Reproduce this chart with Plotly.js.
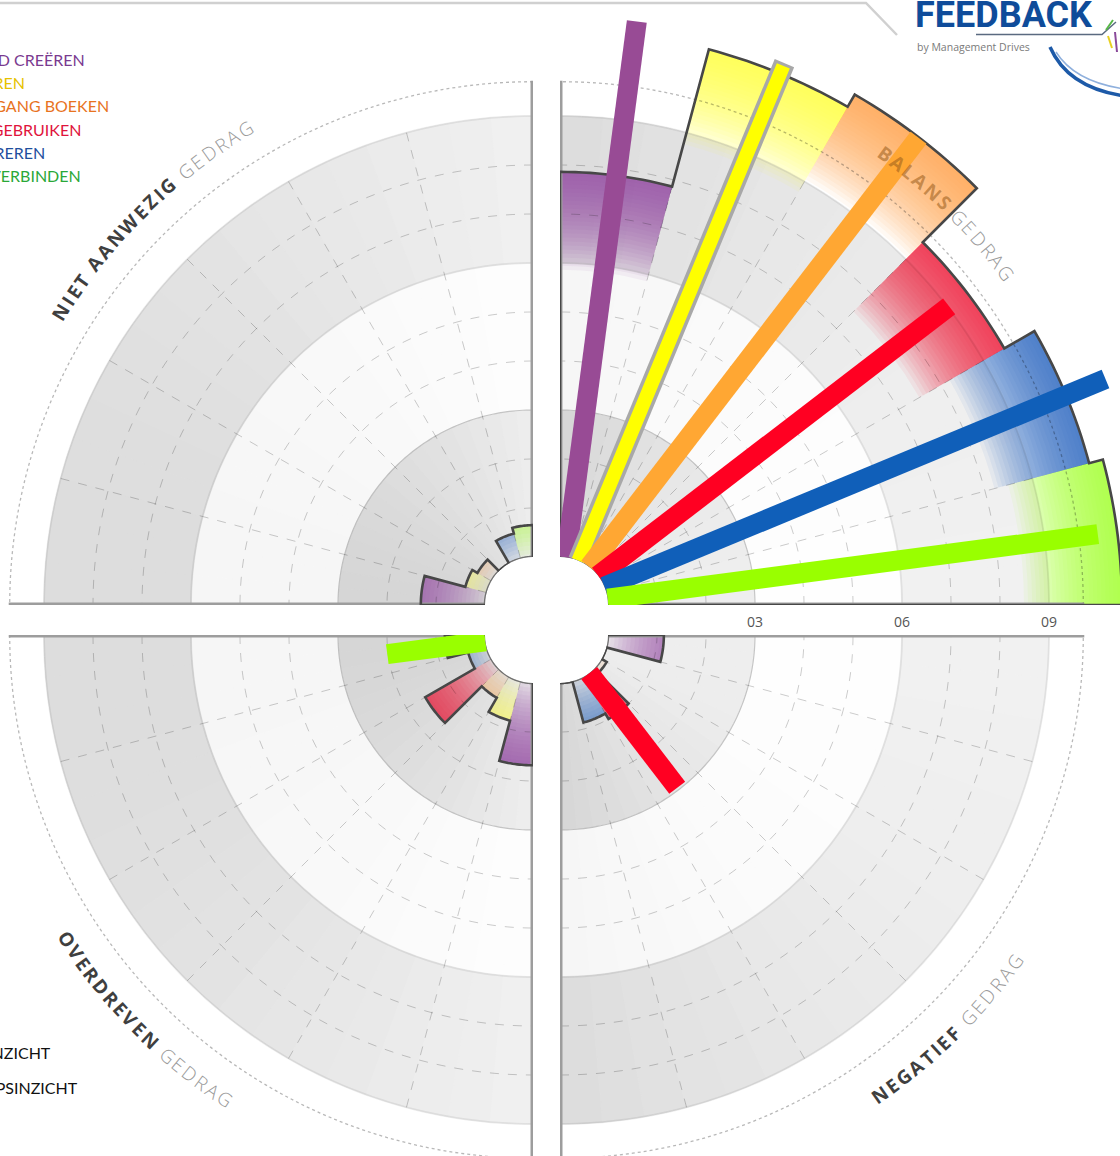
<!DOCTYPE html>
<html><head><meta charset="utf-8">
<script src="https://cdn.plot.ly/plotly-3.0.1.min.js"></script>
<style>
html,body{margin:0;padding:0;overflow:hidden;background:#fff;width:1120px;height:1156px;position:relative}
#plot{position:absolute;left:-190px;top:-170px;width:1500px;height:1500px}
</style>
</head><body><div id="plot"></div>
<script>
// ---------------- DATA ----------------
// category order: purple, yellow, orange, red, blue, green
const categories = ['DUIDELIJKHEID CREËREN','ENTHOUSIASMEREN','VOORUITGANG BOEKEN','TALENTEN GEBRUIKEN','INSPIREREN','MENSEN VERBINDEN'];
const insightLabels = ['ZELFINZICHT','GROEPSINZICHT'];
const quadrantTitles = [['BALANS ','GEDRAG'],['NIET AANWEZIG ','GEDRAG'],['OVERDREVEN ','GEDRAG'],['NEGATIEF ','GEDRAG']];
const radialTickVals = [1,2,3,4,5,6,7,8,9];
const radialTickText = ['','','03','','','06','','','09'];

const balansBars        = [7.86, 10.76, 11.05, 9.49, 10.2, 10.49];
const balansNeedles     = [11.03, 10.99, 11.04, 9.03, 11.07, 10.09];
const nietAanwezigBars  = [1.31, 0.45, 0.33, 0, 0.53, 0.65];
const nietAanwezigNeedles = [0, 0, 0, 0, 0, 0];
const overdrevenBars    = [1.68, 0.83, 0.5, 1.56, 0.39, 0.82];
const overdrevenNeedles = [0, 0, 0, 0, 0, 2.02];
const negatiefBars      = [1.14, 0, 0.12, 1.0, 0.87, 0];
const negatiefNeedles   = [0, 0, 0, 2.95, 0, 0];

// ---------------- STYLE ----------------
const wedgeRGB = [[150,80,160],[255,255,60],[255,170,70],[245,30,60],[40,110,195],[165,255,40]];
const needleColors = ['#984b95','#ffff00','#ffa733','#ff0022','#105fb9','#99ff00'];
const legendColors = ['#7a3a90','#e6c200','#e8731f','#e0143c','#1f4f9e','#2aa838'];
const legendLayout = {y0:60, dy:23, right:[87,27,111,83,47,83]};

const W=1500,H=1500,OX=190,OY=170,R0=48,K=49,RMAX=12,RO=R0+K*RMAX;
const px=x=>(x+OX)/W, py=y=>1-(y+OY)/H;

const quads=[
 {sp:'polar',  q0:0,   ox:560, oy:605, bars:balansBars, needles:balansNeedles, title:quadrantTitles[0], lab:{R:556,a0:-54.2,a1:-36.7,c0:'rgba(150,90,25,0.55)'}, ticks:true},
 {sp:'polar2', q0:90,  ox:533, oy:605, bars:nietAanwezigBars, needles:nietAanwezigNeedles, title:quadrantTitles[1], lab:{R:555.5,a0:-148.2,a1:-121.1,c0:'#3f3f3f'}},
 {sp:'polar3', q0:180, ox:533, oy:635, bars:overdrevenBars, needles:overdrevenNeedles, title:quadrantTitles[2], lab:{R:557,a0:146.9,a1:123.6,c0:'#3f3f3f'}},
 {sp:'polar4', q0:270, ox:560, oy:635, bars:negatiefBars, needles:negatiefNeedles, title:quadrantTitles[3], lab:{R:560,a0:55.2,a1:35.7,c0:'#3f3f3f'}}
];

const data=[], annotations=[], shapes=[];
const layout={width:W,height:H,margin:{l:0,r:0,t:0,b:0},paper_bgcolor:'rgba(0,0,0,0)',showlegend:false,annotations,shapes};

function range(a,b,s){const o=[];for(let v=a;v<=b+1e-9;v+=s)o.push(v);return o;}

quads.forEach(q=>{
  const cx=q.ox+OX, cy=q.oy+OY;
  const right=(q.q0===0||q.q0===270), top=(q.q0===0||q.q0===90);
  const x0=right?cx:cx-RO, x1=right?cx+RO:cx;
  const yt=top?cy-RO:cy, yb=top?cy:cy+RO;
  layout[q.sp]={
    domain:{x:[x0/W,x1/W],y:[1-yb/H,1-yt/H]},
    sector:[q.q0,q.q0+90], hole:R0/RO, bgcolor:'rgba(0,0,0,0)', barmode:'overlay',
    radialaxis:{range:[0,RMAX],autorange:false,tickvals:radialTickVals,ticktext:radialTickText,
      showticklabels:!!q.ticks,showline:false,ticks:'outside',ticklen:5,tickcolor:'rgba(0,0,0,0)',showgrid:false,angle:q.q0,side:'clockwise',
      tickfont:{family:'Open Sans',size:14,color:'#555'}},
    angularaxis:{showgrid:false,showticklabels:false,ticks:'',showline:false,rotation:0,direction:'counterclockwise'}
  };
  const c0=Math.cos(q.q0*Math.PI/180), c1=Math.cos((q.q0+90)*Math.PI/180);
  const xmin=Math.min(c0,c1), xmax=Math.max(c0,c1);
  // background bands (horizontal light gradient)
  const bands=[{b:0,len:3,dark:0.16,light:0.065},{b:3,len:3,dark:0.035,light:0.005},{b:6,len:3,dark:0.135,light:0.055}];
  bands.forEach(bd=>{
    const th=[],cols=[];
    for(let s=0;s<18;s++){
      const m=q.q0+2.5+5*s; const t=(Math.cos(m*Math.PI/180)-xmin)/(xmax-xmin);
      const a=bd.dark+(bd.light-bd.dark)*t; const g=Math.round(255*(1-a));
      th.push(m); cols.push(`rgb(${g},${g},${g})`);
    }
    data.push({type:'barpolar',subplot:q.sp,theta:th,r:th.map(()=>bd.len),base:th.map(()=>bd.b),width:5,
      marker:{color:cols,line:{color:cols,width:1}},hoverinfo:'skip'});
  });
  // wedges with outward gradient (layered translucent bars)
  const N=24,G=2.0,alpha=0.068;
  const mids=q.bars.map((v,i)=>q.q0+15*(5-i)+7.5);
  for(let k=0;k<N;k++){
    const base=[],len=[],cols=[];
    q.bars.forEach((v,i)=>{
      let b=v-G+G*k/N; const bn=v-G+G*(k+1)/N;
      if(v<=0||(b<0&&bn<0)){base.push(0);len.push(0);}
      else{b=Math.max(0,b);base.push(b);len.push(v-b);}
      const c=wedgeRGB[i]; cols.push(`rgba(${c[0]},${c[1]},${c[2]},${alpha})`);
    });
    data.push({type:'barpolar',subplot:q.sp,theta:mids,r:len,base:base,width:15,marker:{color:cols,line:{width:0}},hoverinfo:'skip'});
  }
  const arc=range(q.q0,q.q0+90,1);
  const circ=(r,col,w,dash)=>data.push({type:'scatterpolar',subplot:q.sp,mode:'lines',r:arc.map(()=>r),theta:arc,
      line:{color:col,width:w,dash:dash||'solid'},hoverinfo:'skip',cliponaxis:false});
  [1,2,4,5,7,8].forEach(r=>circ(r,'rgba(0,0,0,0.2)',1,'dash'));
  circ(3,'rgba(0,0,0,0.22)',1.2);
  circ(6,'rgba(0,0,0,0.07)',2);
  circ(9,'rgba(0,0,0,0.07)',2);
  circ(9.7,'rgba(0,0,0,0.28)',1.3,'dot');
  // radial dashed grid
  const gr=[],gt=[];
  for(let s=1;s<6;s++){gr.push(0,9,null);gt.push(q.q0+15*s,q.q0+15*s,null);}
  data.push({type:'scatterpolar',subplot:q.sp,mode:'lines',r:gr,theta:gt,line:{color:'rgba(0,0,0,0.2)',width:1,dash:'dash'},hoverinfo:'skip'});
  // thick axis lines
  data.push({type:'scatterpolar',subplot:q.sp,mode:'lines',r:[0,9.72,null,0,9.72],theta:[q.q0,q.q0,null,q.q0+90,q.q0+90],
    line:{color:'#9d9d9d',width:5},hoverinfo:'skip',cliponaxis:false});
  // hole outline
  data.push({type:'scatterpolar',subplot:q.sp,mode:'lines',r:arc.map(()=>0),theta:arc,line:{color:'#707070',width:2.5},hoverinfo:'skip',cliponaxis:false});
  // wedge union outline
  const cr=[0],ct=[q.q0];
  for(let slot=0;slot<6;slot++){const v=q.bars[5-slot];for(let k=0;k<=15;k++){cr.push(v);ct.push(q.q0+15*slot+k);}}
  cr.push(0);ct.push(q.q0+90);
  data.push({type:'scatterpolar',subplot:q.sp,mode:'lines',r:cr,theta:ct,line:{color:'#474747',width:2.6},hoverinfo:'skip',cliponaxis:false});
  // needles
  q.needles.forEach((v,i)=>{
    if(v<=0)return;
    const t=mids[i];
    if(i===1){
      data.push({type:'scatterpolar',subplot:q.sp,mode:'lines',r:[0,v],theta:[t,t],line:{color:'#a8a8a8',width:21},hoverinfo:'skip',cliponaxis:false});
      data.push({type:'scatterpolar',subplot:q.sp,mode:'lines',r:[0,v-0.06],theta:[t,t],line:{color:needleColors[i],width:14},hoverinfo:'skip',cliponaxis:false});
    } else {
      data.push({type:'scatterpolar',subplot:q.sp,mode:'lines',r:[0,v],theta:[t,t],line:{color:needleColors[i],width:20},hoverinfo:'skip',cliponaxis:false});
    }
  });
});

// ---------- curved quadrant labels ----------
const ctx=document.createElement('canvas').getContext('2d');
function arcLabel(cx,cy,R,a0,a1,segs,size){
  const chars=[];
  segs.forEach(s=>{for(const ch of s.t){ctx.font=`${s.w} ${size}px "${s.f}"`;chars.push({ch,w:ctx.measureText(ch).width,s});}});
  let acc=0;const cen=[];
  chars.forEach(c=>{cen.push(acc+c.w/2);acc+=c.w;});
  const n=chars.length, arcLen=R*Math.abs(a1-a0)*Math.PI/180;
  const sp=(arcLen-(cen[n-1]-cen[0]))/(n-1), dir=Math.sign(a1-a0);
  chars.forEach((c,i)=>{
    if(c.ch===' ')return;
    const d=cen[i]-cen[0]+sp*i;
    const ang=a0+dir*d/R*180/Math.PI, rad=ang*Math.PI/180;
    const x=cx+R*Math.cos(rad), y=cy+R*Math.sin(rad);
    const rot=dir>0?ang+90:ang-90;
    annotations.push({xref:'paper',yref:'paper',x:px(x),y:py(y),text:c.ch,showarrow:false,textangle:rot,
      xanchor:'center',yanchor:'middle',font:{family:c.s.f,size:size,color:c.s.c,weight:c.s.w}});
  });
}
quads.forEach(q=>{
  arcLabel(q.ox,q.oy,q.lab.R,q.lab.a0,q.lab.a1,
    [{t:q.title[0],w:700,c:q.lab.c0,f:'Open Sans'},{t:q.title[1],w:300,c:'#9a9a9a',f:'Open Sans'}],19);
});

// ---------- legend ----------
categories.forEach((t,i)=>{
  annotations.push({xref:'paper',yref:'paper',x:px(legendLayout.right[i]),y:py(legendLayout.y0+legendLayout.dy*i),
    xanchor:'right',yanchor:'middle',text:t,showarrow:false,font:{family:'Lato',size:16,color:legendColors[i]}});
});
const insightRight=[53,80], insightY=[1052,1087];
insightLabels.forEach((t,i)=>{
  annotations.push({xref:'paper',yref:'paper',x:px(insightRight[i]),y:py(insightY[i]),xanchor:'right',yanchor:'middle',
    text:t,showarrow:false,font:{family:'Lato',size:16,color:'#111'}});
});

// ---------- logo ----------
annotations.push({xref:'paper',yref:'paper',x:px(913),y:py(15),xanchor:'left',yanchor:'middle',text:'FEEDBACK',showarrow:false,
  font:{family:'Roboto',size:36,color:'#0f4c9a',weight:700}});
annotations.push({xref:'paper',yref:'paper',x:px(915),y:py(47),xanchor:'left',yanchor:'middle',text:'by Management Drives',showarrow:false,
  font:{family:'Open Sans',size:10.5,color:'#7a7a7a'}});
shapes.push({type:'path',xref:'paper',yref:'paper',path:`M ${px(-20)} ${py(3)} L ${px(866)} ${py(3)} L ${px(897)} ${py(35)}`,line:{color:'#d0d0d0',width:2.5}});
shapes.push({type:'path',xref:'paper',yref:'paper',path:`M ${px(976)} ${py(34.5)} L ${px(1102)} ${py(34.5)} L ${px(1116)} ${py(22)}`,line:{color:'#5a6a80',width:1.5}});
shapes.push({type:'path',xref:'paper',yref:'paper',path:`M ${px(1050)} ${py(47)} Q ${px(1068)} ${py(88)} ${px(1125)} ${py(96)}`,line:{color:'#1d5aa8',width:3.5}});
shapes.push({type:'path',xref:'paper',yref:'paper',path:`M ${px(1056)} ${py(52)} Q ${px(1075)} ${py(82)} ${px(1125)} ${py(89)}`,line:{color:'#8fb0dd',width:1.5}});
shapes.push({type:'path',xref:'paper',yref:'paper',path:`M ${px(1106)} ${py(30)} L ${px(1113)} ${py(20)}`,line:{color:'#58b848',width:2}});
shapes.push({type:'path',xref:'paper',yref:'paper',path:`M ${px(1108)} ${py(36)} L ${px(1112)} ${py(48)}`,line:{color:'#e8d020',width:2}});
shapes.push({type:'path',xref:'paper',yref:'paper',path:`M ${px(1115)} ${py(32)} L ${px(1117)} ${py(52)}`,line:{color:'#8a4a9a',width:2}});

Plotly.newPlot('plot',data,layout,{staticPlot:true,displayModeBar:false});
</script></body></html>
